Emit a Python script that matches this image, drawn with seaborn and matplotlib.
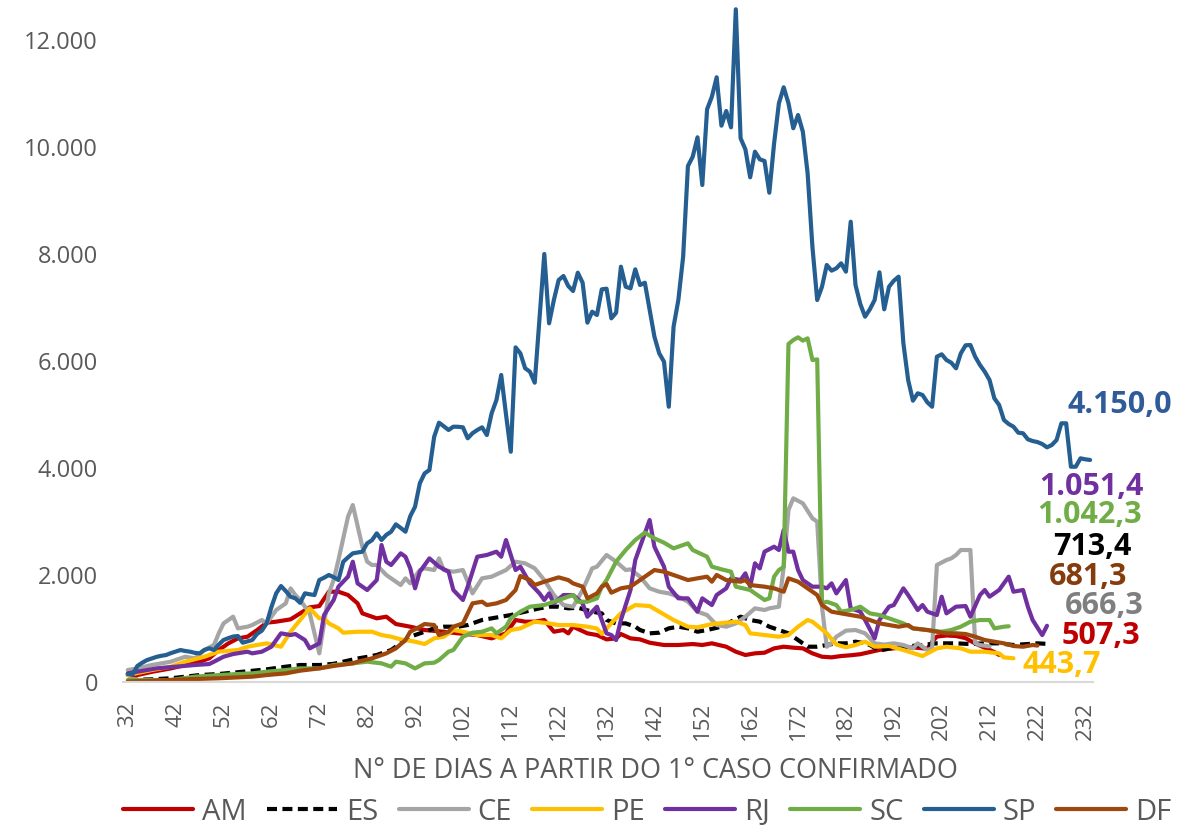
import matplotlib
matplotlib.use("Agg")
import matplotlib.pyplot as plt
import matplotlib.ticker as mticker
import seaborn as sns

# Dados (dia desde o 1° caso, média móvel de casos)
estados = ["AM", "ES", "CE", "PE", "RJ", "SC", "SP", "DF"]
cores = ["#C00000", "#000000", "#A5A5A5", "#FFC000", "#7030A0", "#70AD47", "#255E91", "#9E480E"]

am_dias = [32, 34, 37, 41, 44, 47, 49, 51, 53, 55, 57, 59, 61, 63, 66, 68, 70, 72, 74, 76, 78, 80, 81, 83,
           84, 86, 88, 91, 94, 98, 101, 105, 108, 111, 113, 115, 117, 119, 121, 123, 124, 125, 128, 130, 132,
           134, 135, 137, 139, 141, 144, 147, 150, 152, 154, 157, 159, 161, 163, 165, 167, 169, 171, 173, 175,
           177, 179, 181, 183, 185, 187, 189, 191, 193, 195, 197, 199, 200, 201, 203, 205, 207, 209, 211, 213, 214]
am_vals = [130, 130, 190, 255, 318, 380, 442, 598, 722, 816, 847, 970, 1109, 1128, 1171, 1283, 1395, 1420, 1688,
           1688, 1626, 1470, 1283, 1221, 1190, 1221, 1084, 1034, 972, 940, 910, 878, 816, 910, 1159, 1128, 1128,
           1159, 940, 972, 910, 1034, 910, 878, 797, 816, 897, 816, 797, 735, 692, 692, 710, 692, 723, 660, 567,
           505, 536, 548, 629, 660, 642, 629, 536, 473, 461, 486, 500, 520, 560, 600, 620, 640, 650, 640, 620,
           750, 850, 870, 860, 820, 720, 640, 560, 507]

es_dias = [32, 37, 41, 44, 47, 51, 54, 58, 61, 65, 68, 72, 75, 77, 80, 82, 84, 87, 89, 91, 94, 96, 98, 101,
           103, 106, 108, 110, 112, 115, 118, 120, 122, 124, 126, 129, 131, 132, 134, 136, 138, 139, 141, 143,
           145, 147, 149, 151, 153, 156, 158, 160, 162, 164, 166, 168, 170, 172, 174, 176, 178, 180, 182, 184,
           186, 187, 189, 191, 194, 198, 201, 205, 208, 211, 214, 217, 219, 222, 224]
es_vals = [40, 50, 70, 100, 130, 150, 175, 210, 237, 287, 318, 318, 340, 380, 440, 470, 505, 598, 723, 847,
           940, 1003, 1034, 1034, 1065, 1159, 1190, 1221, 1252, 1315, 1377, 1408, 1408, 1377, 1389, 1315, 1283,
           1159, 1096, 1096, 1034, 972, 910, 922, 1003, 1034, 1003, 940, 972, 1034, 1128, 1221, 1159, 1128,
           1034, 972, 910, 785, 660, 660, 692, 723, 723, 754, 723, 692, 586, 629, 660, 692, 723, 723, 710, 723,
           723, 692, 704, 723, 713]

ce_dias = [32, 34, 37, 41, 44, 46, 48, 50, 51, 52, 54, 55, 57, 58, 60, 61, 63, 65, 66, 67, 68, 70, 71, 72,
           74, 75, 76, 78, 79, 81, 82, 83, 84, 86, 89, 90, 91, 93, 94, 96, 97, 98, 100, 102, 104, 106, 108, 111,
           113, 115, 117, 119, 121, 123, 125, 127, 129, 130, 132, 134, 136, 137, 139, 141, 143, 145, 147, 149,
           151, 153, 155, 157, 159, 161, 163, 165, 166, 168, 169, 170, 171, 173, 175, 176, 177, 178, 179, 180,
           182, 184, 186, 188, 190, 192, 194, 196, 197, 199, 200, 201, 203, 204, 205, 206, 208, 209, 210, 212]
ce_vals = [224, 255, 318, 380, 473, 442, 598, 692, 910, 1096, 1221, 1003, 1034, 1065, 1159, 1096, 1346, 1470,
           1750, 1626, 1533, 1283, 910, 536, 1657, 1906, 2280, 3090, 3308, 2529, 2249, 2187, 2187, 2000, 1813,
           1938, 1844, 2093, 2124, 2093, 2311, 2093, 2062, 2093, 1657, 1938, 1969, 2093, 2249, 2218, 2124, 1906,
           1626, 1439, 1408, 1719, 2124, 2156, 2374, 2249, 2093, 2106, 1969, 1751, 1688, 1657, 1595, 1501, 1315,
           1252, 1065, 1034, 1096, 1221, 1377, 1346, 1377, 1408, 2156, 3215, 3433, 3340, 3059, 2996, 1408, 660,
           723, 847, 960, 972, 910, 723, 700, 723, 692, 629, 723, 598, 629, 2187, 2280, 2311, 2374, 2467, 2467,
           723, 692, 666]

pe_dias = [32, 37, 41, 44, 48, 51, 55, 57, 59, 61, 63, 64, 66, 68, 70, 72, 73, 74, 76, 77, 80, 83, 85, 87,
           89, 92, 94, 96, 98, 100, 102, 105, 108, 110, 112, 114, 117, 120, 122, 125, 128, 130, 131, 133, 135,
           138, 141, 143, 146, 149, 151, 154, 157, 159, 161, 162, 165, 168, 170, 172, 174, 175, 178, 180, 182,
           184, 186, 188, 191, 194, 198, 201, 203, 206, 208, 211, 214, 215, 217]
pe_vals = [130, 224, 287, 380, 473, 567, 598, 660, 692, 723, 680, 660, 940, 1159, 1377, 1190, 1190, 1096, 1003,
           922, 940, 940, 878, 847, 797, 754, 710, 816, 847, 972, 940, 878, 878, 816, 972, 1003, 1128, 1096,
           1065, 1065, 1034, 1000, 900, 1100, 1283, 1439, 1420, 1315, 1159, 1034, 1022, 1084, 1109, 1128, 1065,
           910, 878, 847, 878, 1034, 1159, 1128, 910, 700, 650, 692, 754, 660, 673, 598, 486, 629, 660, 629, 567,
           567, 536, 460, 444]

rj_dias = [32, 34, 38, 42, 46, 49, 50, 52, 54, 57, 58, 60, 62, 64, 66, 67, 69, 70, 72, 73, 75, 76, 78, 79,
           80, 82, 84, 85, 86, 87, 89, 90, 91, 92, 93, 95, 97, 99, 100, 102, 103, 105, 107, 109, 110, 111, 113,
           114, 116, 118, 119, 120, 121, 123, 125, 127, 128, 130, 131, 132, 133, 134, 135, 137, 138, 140, 141,
           142, 144, 145, 147, 149, 150, 151, 152, 154, 155, 157, 158, 160, 161, 162, 163, 164, 165, 167, 168,
           169, 170, 171, 172, 173, 175, 177, 178, 179, 180, 182, 183, 185, 186, 188, 189, 191, 192, 194, 195,
           197, 198, 199, 201, 202, 203, 205, 207, 208, 210, 211, 212, 214, 215, 216, 217, 219, 220, 221, 223, 224]
rj_vals = [162, 193, 255, 287, 318, 336, 380, 473, 523, 567, 536, 567, 660, 910, 878, 897, 785, 629, 723, 1252,
           1533, 1782, 1969, 2249, 1844, 1720, 1906, 2561, 2249, 2187, 2405, 2342, 2124, 1751, 2062, 2311, 2156,
           2062, 1720, 1533, 1782, 2342, 2374, 2436, 2342, 2654, 2093, 2156, 1844, 1657, 1533, 1657, 1470, 1626,
           1626, 1470, 1221, 1408, 1159, 910, 878, 785, 1159, 1720, 2280, 2779, 3028, 2529, 2156, 1782, 1564,
           1564, 1439, 1315, 1564, 1439, 1626, 1751, 1938, 1906, 2031, 1782, 2218, 2124, 2436, 2529, 2467, 2841,
           2436, 2436, 2093, 1906, 1782, 1782, 1751, 1844, 1657, 1906, 1377, 1315, 1159, 816, 1159, 1408, 1439,
           1751, 1626, 1346, 1439, 1315, 1252, 1595, 1283, 1408, 1420, 1221, 1626, 1720, 1595, 1720, 1844, 1969,
           1688, 1720, 1408, 1159, 878, 1051]

sc_dias = [32, 41, 46, 51, 55, 58, 61, 65, 68, 72, 75, 79, 82, 85, 87, 88, 90, 92, 94, 96, 97, 99, 100, 102,
           104, 106, 108, 109, 111, 112, 114, 116, 119, 121, 123, 125, 126, 128, 130, 131, 132, 134, 136, 138,
           140, 142, 144, 146, 149, 150, 153, 154, 156, 158, 159, 162, 163, 165, 166, 167, 168, 169, 170, 171,
           172, 173, 174, 175, 176, 177, 178, 180, 181, 183, 185, 187, 189, 191, 194, 196, 199, 202, 204, 206,
           208, 210, 212, 213, 215, 216]
sc_vals = [37, 37, 100, 130, 150, 162, 193, 224, 255, 255, 318, 349, 380, 349, 287, 380, 349, 255, 349, 361,
           411, 567, 598, 847, 922, 940, 1003, 910, 1034, 1190, 1315, 1408, 1439, 1501, 1564, 1626, 1501, 1501,
           1564, 1782, 1906, 2249, 2467, 2654, 2791, 2685, 2604, 2498, 2592, 2467, 2342, 2156, 2106, 2062, 1782,
           1720, 1657, 1533, 1564, 1969, 2093, 2150, 6317, 6392, 6442, 6380, 6423, 6018, 6030, 1470, 1501, 1439,
           1315, 1346, 1408, 1283, 1252, 1190, 1096, 1003, 972, 940, 972, 1034, 1128, 1159, 1159, 1003, 1034, 1042]

sp_dias = list(range(32, 234))
sp_vals = [150, 140, 300, 360, 410, 440, 470, 490, 505, 540, 570, 598, 580, 567, 545, 536, 600, 630, 598, 700,
           785, 820, 850, 860, 735, 760, 785, 900, 960, 1097, 1400, 1658, 1794, 1700, 1595, 1564, 1480, 1658,
           1640, 1626, 1906, 1950, 2000, 1960, 1906, 2248, 2330, 2405, 2420, 2436, 2592, 2650, 2779, 2654, 2750,
           2809, 2947, 2880, 2809, 3100, 3276, 3714, 3900, 3962, 4585, 4847, 4780, 4710, 4772, 4770, 4760, 4555,
           4650, 4710, 4760, 4616, 5022, 5270, 5738, 5000, 4304, 6255, 6143, 5863, 5800, 5594, 6800, 8000, 6704,
           7140, 7513, 7588, 7401, 7308, 7650, 7463, 6716, 6921, 6859, 7339, 7351, 6797, 6902, 7762, 7388, 7357,
           7713, 7420, 7463, 6953, 6454, 6143, 5987, 5145, 6641, 7140, 7949, 9644, 9818, 10180, 9289, 10704,
           10939, 11302, 10398, 10672, 10367, 12573, 10162, 9956, 9433, 9912, 9769, 9738, 9145, 10068, 10816,
           11115, 10816, 10349, 10597, 10286, 9508, 8136, 7140, 7388, 7794, 7688, 7732, 7825, 7669, 8603, 7420,
           7065, 6828, 6966, 7140, 7657, 6966, 7388, 7500, 7575, 6330, 5644, 5258, 5396, 5364, 5228, 5145, 6080,
           6125, 6018, 5968, 5863, 6143, 6293, 6299, 6080, 5925, 5800, 5644, 5302, 5177, 4897, 4822, 4772, 4660,
           4648, 4536, 4504, 4485, 4448, 4386, 4430, 4523, 4835, 4835, 4024, 4024, 4181, 4162, 4150]

df_dias = [32, 37, 44, 51, 58, 61, 65, 68, 72, 75, 79, 80, 83, 86, 88, 90, 91, 93, 94, 96, 97, 99, 100, 102,
           103, 104, 106, 107, 109, 111, 113, 114, 116, 117, 119, 122, 124, 125, 127, 128, 130, 131, 132, 133,
           135, 137, 139, 142, 144, 147, 149, 151, 153, 154, 155, 157, 160, 161, 162, 165, 167, 169, 170, 172,
           174, 176, 177, 179, 181, 183, 185, 187, 189, 191, 193, 195, 196, 199, 201, 203, 205, 207, 209, 211,
           213, 215, 217, 219, 221, 222]
df_vals = [10, 25, 50, 70, 100, 130, 162, 212, 255, 300, 349, 380, 442, 536, 629, 785, 940, 1034, 1084, 1065,
           878, 940, 1034, 1096, 1283, 1470, 1501, 1439, 1470, 1533, 1720, 1981, 1906, 1813, 1875, 1956, 1906,
           1844, 1782, 1564, 1657, 1782, 1832, 1670, 1751, 1782, 1906, 2093, 2062, 1969, 1906, 1938, 1969, 1875,
           2000, 1906, 1875, 1906, 1813, 1782, 1751, 1688, 1938, 1875, 1751, 1626, 1439, 1315, 1283, 1252, 1221,
           1159, 1096, 1065, 1034, 1065, 1003, 972, 940, 910, 910, 897, 847, 785, 754, 723, 673, 660, 692, 681]

series = [(am_dias, am_vals), (es_dias, es_vals), (ce_dias, ce_vals), (pe_dias, pe_vals),
          (rj_dias, rj_vals), (sc_dias, sc_vals), (sp_dias, sp_vals), (df_dias, df_vals)]

# rótulos do último valor de cada estado
rotulos = ["4.150,0", "1.051,4", "1.042,3", "713,4", "681,3", "666,3", "507,3", "443,7"]
cores_rotulos = ["#2F5C99", "#7030A0", "#70AD47", "#000000", "#843C0C", "#7F7F7F", "#C00000", "#FFC000"]

# Estilo
sns.set_theme(style="white")
plt.rcParams["font.family"] = ["Open Sans", "DejaVu Sans"]
cinza = "#595959"

fig = plt.figure(figsize=(11.77, 8.27), dpi=100)
ax = fig.add_axes([0.1045, 0.1753, 0.8241, 0.8217])

for nome, cor, (dias, vals) in zip(estados, cores, series):
    estilo = (0, (2.4, 1.3)) if nome == "ES" else "-"
    sns.lineplot(x=dias, y=vals, ax=ax, color=cor, lw=3.0, linestyle=estilo, label=nome)

ax.set_xlim(31, 233.6)
ax.set_ylim(0, 12700)
ax.set_xticks(range(32, 233, 10))
ax.set_yticks(range(0, 12001, 2000))
ax.yaxis.set_major_formatter(mticker.FuncFormatter(lambda v, p: f"{int(v):,}".replace(",", ".")))
ax.tick_params(axis="x", labelrotation=90, labelsize=16, colors=cinza, length=0, pad=14)
ax.tick_params(axis="y", labelsize=17, colors=cinza, length=0, pad=18)
ax.set_xlabel("")
ax.set_ylabel("")

sns.despine(ax=ax, left=True)
ax.spines["bottom"].set_color("#D9D9D9")
ax.spines["bottom"].set_linewidth(1.5)

fig.text(0.5565, 0.068, "N° DE DIAS A PARTIR DO 1° CASO CONFIRMADO", ha="center", va="center",
         fontsize=19.5, color=cinza)

# rótulos à direita
pos_x = [1120, 1091, 1090, 1092, 1088, 1104, 1101, 1062]
pos_y = [405, 487, 515, 547, 577, 606, 636, 665]
for txt, cor, px, py in zip(rotulos, cores_rotulos, pos_x, pos_y):
    fig.text(px / 1177, 1 - py / 827, txt, ha="center", va="center", fontsize=22,
             fontweight="bold", color=cor)

handles, labels = ax.get_legend_handles_labels()
ax.get_legend().remove()
fig.legend(handles, labels, loc="center", bbox_to_anchor=(0.55, 0.018), ncol=8, frameon=False,
           fontsize=21, labelcolor=cinza, handlelength=2.4, handletextpad=0.3, columnspacing=0.7,
           borderaxespad=0, borderpad=0)

fig.savefig("out.png", dpi=100)
